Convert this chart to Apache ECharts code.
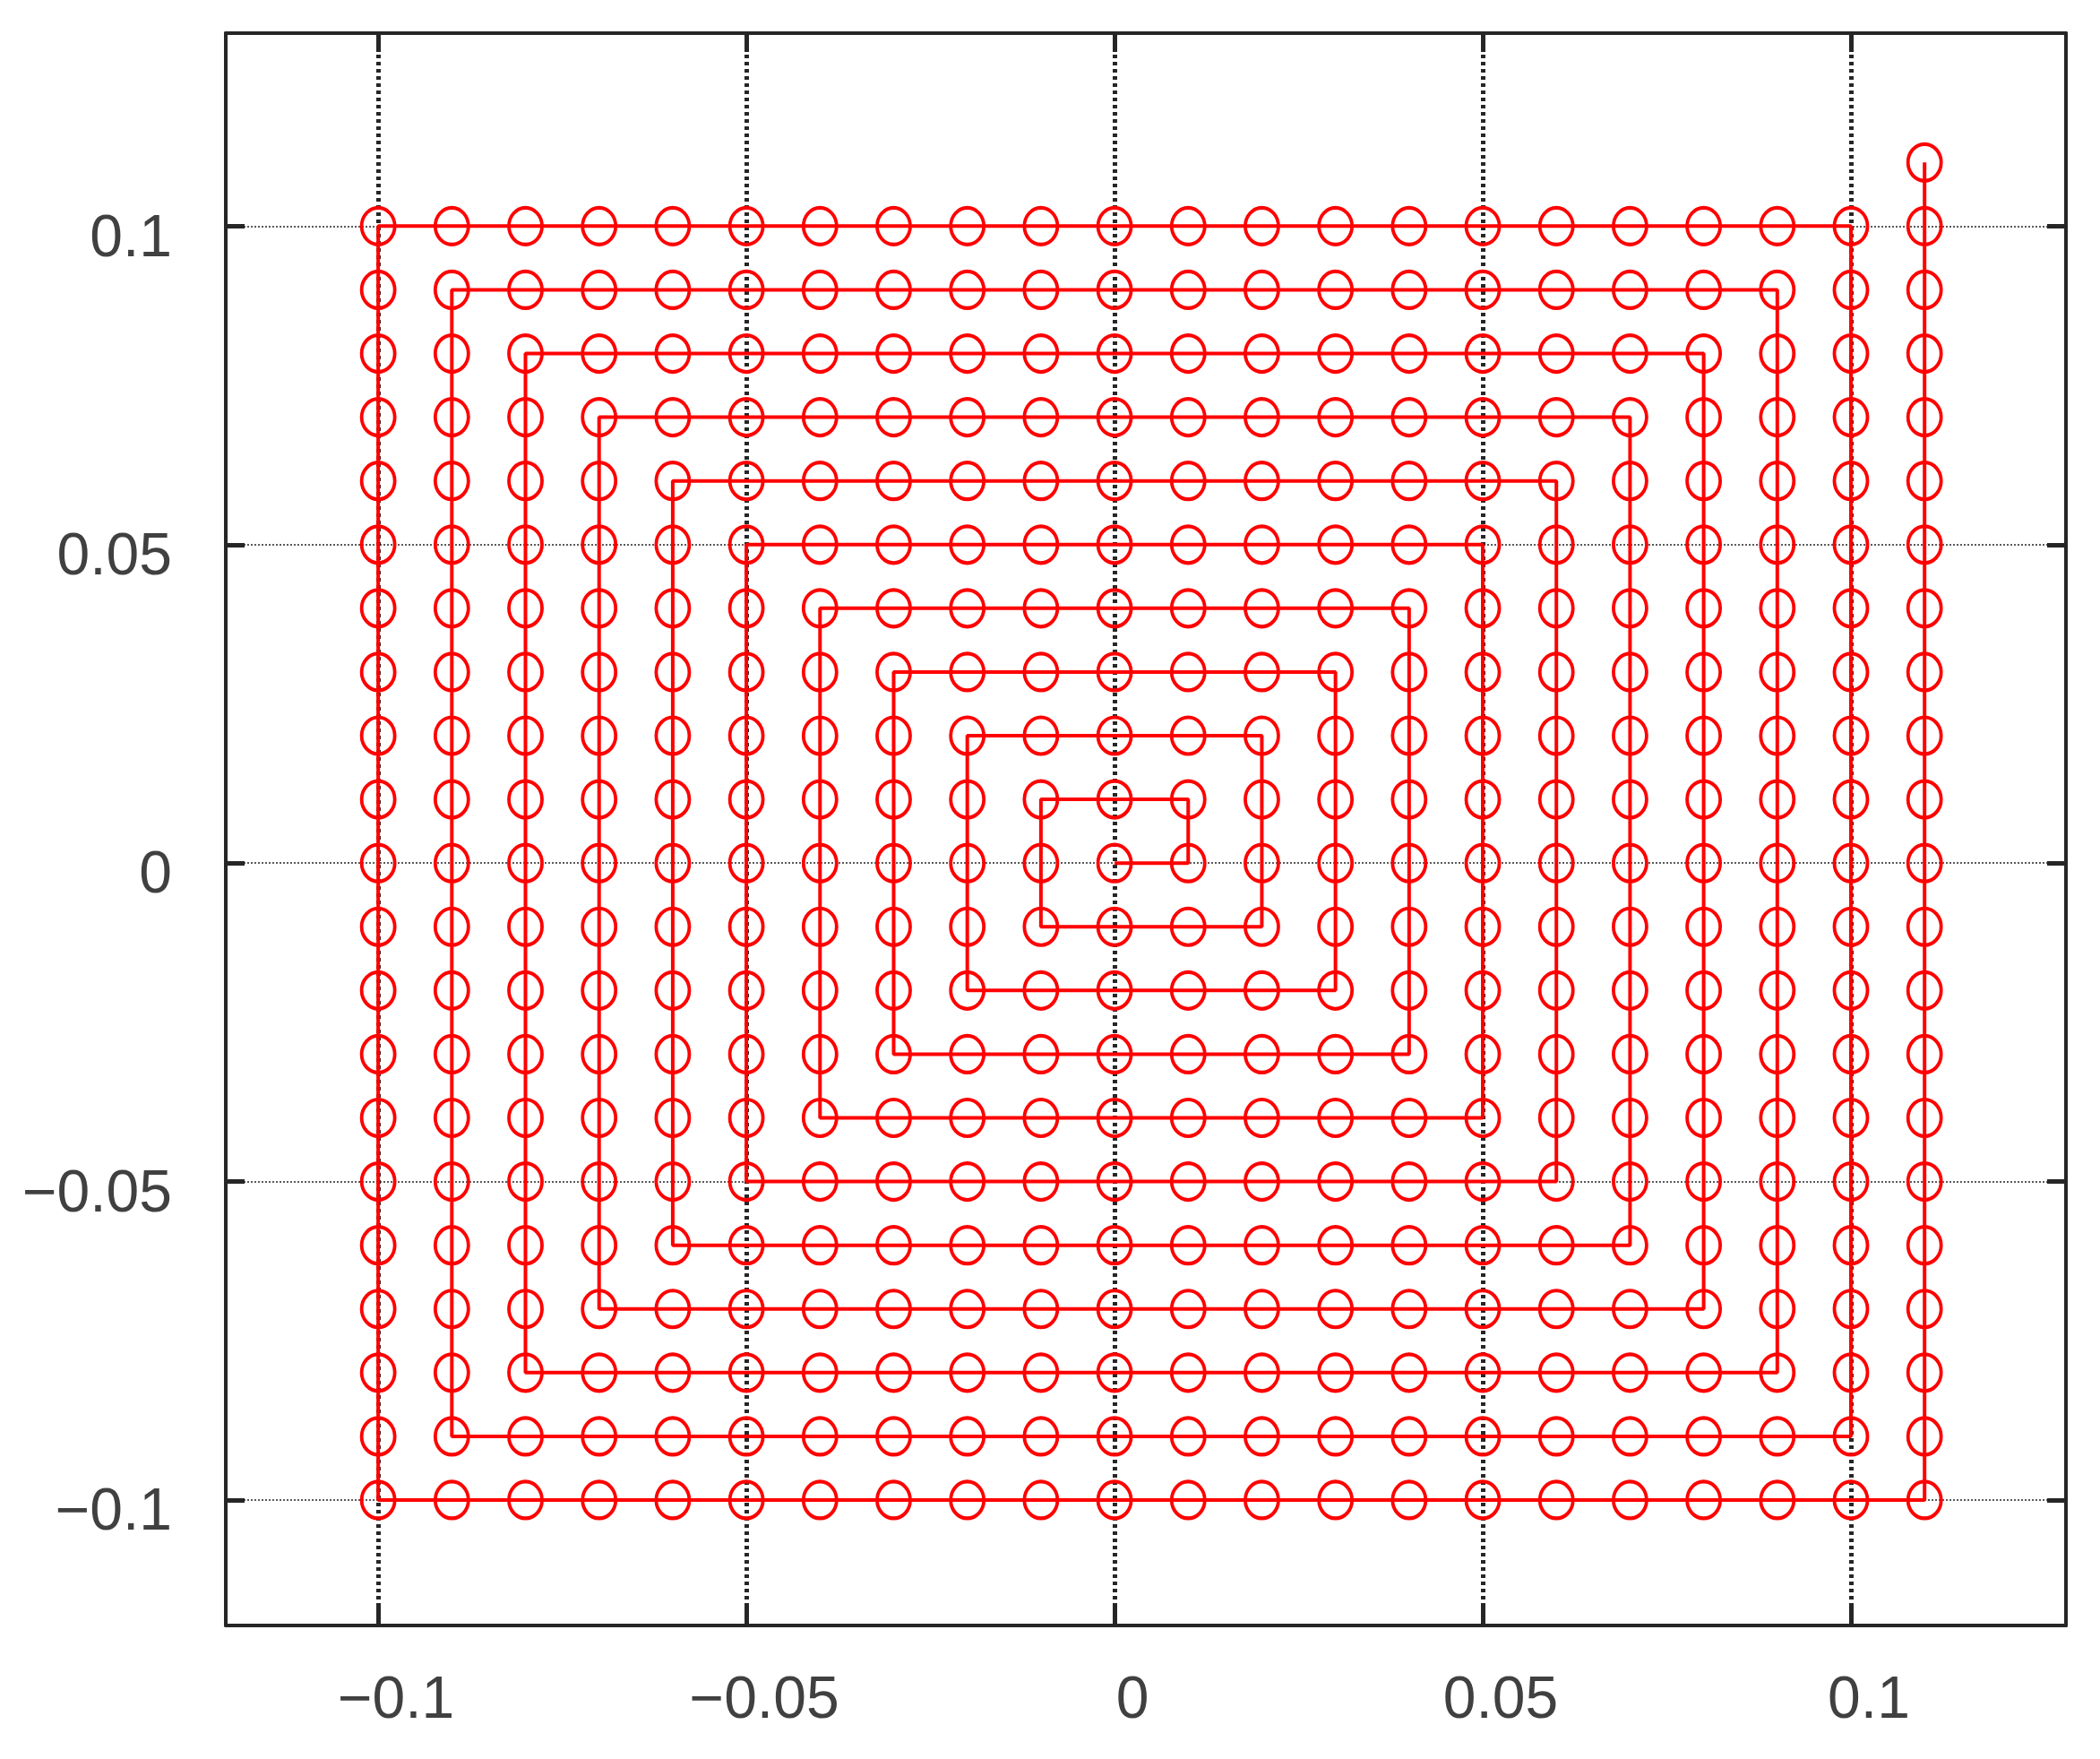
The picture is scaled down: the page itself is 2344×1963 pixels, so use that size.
<!DOCTYPE html>
<html>
<head>
<meta charset="utf-8">
<script src="https://cdn.jsdelivr.net/npm/echarts@6/dist/echarts.min.js"></script>
<style>
html,body{margin:0;padding:0;background:#fff;}
#chart{width:2344px;height:1963px;}
</style>
</head>
<body>
<div id="chart"></div>
<script>
// Tick values (both axes)
const xTicks = [-0.1, -0.05, 0, 0.05, 0.1];
const yTicks = [-0.1, -0.05, 0, 0.05, 0.1];
// Axis extents read from the frame
const xRange = [-0.1207, 0.1292];
const yRange = [-0.1197, 0.1303];

// Square spiral path, points in drawing order [x, y]
const spiral = [
  [0,0],
  // ring 1
  [0.01,0],
  [0.01,0.01],
  [0,0.01],[-0.01,0.01],
  [-0.01,0],[-0.01,-0.01],
  // ring 2
  [0,-0.01],[0.01,-0.01],[0.02,-0.01],
  [0.02,0],[0.02,0.01],[0.02,0.02],
  [0.01,0.02],[0,0.02],[-0.01,0.02],[-0.02,0.02],
  [-0.02,0.01],[-0.02,0],[-0.02,-0.01],[-0.02,-0.02],
  // ring 3
  [-0.01,-0.02],[0,-0.02],[0.01,-0.02],[0.02,-0.02],[0.03,-0.02],
  [0.03,-0.01],[0.03,0],[0.03,0.01],[0.03,0.02],[0.03,0.03],
  [0.02,0.03],[0.01,0.03],[0,0.03],[-0.01,0.03],[-0.02,0.03],[-0.03,0.03],
  [-0.03,0.02],[-0.03,0.01],[-0.03,0],[-0.03,-0.01],[-0.03,-0.02],[-0.03,-0.03],
  // ring 4
  [-0.02,-0.03],[-0.01,-0.03],[0,-0.03],[0.01,-0.03],[0.02,-0.03],[0.03,-0.03],[0.04,-0.03],
  [0.04,-0.02],[0.04,-0.01],[0.04,0],[0.04,0.01],[0.04,0.02],[0.04,0.03],[0.04,0.04],
  [0.03,0.04],[0.02,0.04],[0.01,0.04],[0,0.04],[-0.01,0.04],[-0.02,0.04],[-0.03,0.04],[-0.04,0.04],
  [-0.04,0.03],[-0.04,0.02],[-0.04,0.01],[-0.04,0],[-0.04,-0.01],[-0.04,-0.02],[-0.04,-0.03],[-0.04,-0.04],
  // ring 5
  [-0.03,-0.04],[-0.02,-0.04],[-0.01,-0.04],[0,-0.04],[0.01,-0.04],[0.02,-0.04],[0.03,-0.04],[0.04,-0.04],[0.05,-0.04],
  [0.05,-0.03],[0.05,-0.02],[0.05,-0.01],[0.05,0],[0.05,0.01],[0.05,0.02],[0.05,0.03],[0.05,0.04],[0.05,0.05],
  [0.04,0.05],[0.03,0.05],[0.02,0.05],[0.01,0.05],[0,0.05],[-0.01,0.05],[-0.02,0.05],[-0.03,0.05],[-0.04,0.05],[-0.05,0.05],
  [-0.05,0.04],[-0.05,0.03],[-0.05,0.02],[-0.05,0.01],[-0.05,0],[-0.05,-0.01],[-0.05,-0.02],[-0.05,-0.03],[-0.05,-0.04],[-0.05,-0.05],
  // ring 6
  [-0.04,-0.05],[-0.03,-0.05],[-0.02,-0.05],[-0.01,-0.05],[0,-0.05],[0.01,-0.05],[0.02,-0.05],[0.03,-0.05],[0.04,-0.05],[0.05,-0.05],[0.06,-0.05],
  [0.06,-0.04],[0.06,-0.03],[0.06,-0.02],[0.06,-0.01],[0.06,0],[0.06,0.01],[0.06,0.02],[0.06,0.03],[0.06,0.04],[0.06,0.05],[0.06,0.06],
  [0.05,0.06],[0.04,0.06],[0.03,0.06],[0.02,0.06],[0.01,0.06],[0,0.06],[-0.01,0.06],[-0.02,0.06],[-0.03,0.06],[-0.04,0.06],[-0.05,0.06],[-0.06,0.06],
  [-0.06,0.05],[-0.06,0.04],[-0.06,0.03],[-0.06,0.02],[-0.06,0.01],[-0.06,0],[-0.06,-0.01],[-0.06,-0.02],[-0.06,-0.03],[-0.06,-0.04],[-0.06,-0.05],[-0.06,-0.06],
  // ring 7
  [-0.05,-0.06],[-0.04,-0.06],[-0.03,-0.06],[-0.02,-0.06],[-0.01,-0.06],[0,-0.06],[0.01,-0.06],[0.02,-0.06],[0.03,-0.06],[0.04,-0.06],[0.05,-0.06],[0.06,-0.06],[0.07,-0.06],
  [0.07,-0.05],[0.07,-0.04],[0.07,-0.03],[0.07,-0.02],[0.07,-0.01],[0.07,0],[0.07,0.01],[0.07,0.02],[0.07,0.03],[0.07,0.04],[0.07,0.05],[0.07,0.06],[0.07,0.07],
  [0.06,0.07],[0.05,0.07],[0.04,0.07],[0.03,0.07],[0.02,0.07],[0.01,0.07],[0,0.07],[-0.01,0.07],[-0.02,0.07],[-0.03,0.07],[-0.04,0.07],[-0.05,0.07],[-0.06,0.07],[-0.07,0.07],
  [-0.07,0.06],[-0.07,0.05],[-0.07,0.04],[-0.07,0.03],[-0.07,0.02],[-0.07,0.01],[-0.07,0],[-0.07,-0.01],[-0.07,-0.02],[-0.07,-0.03],[-0.07,-0.04],[-0.07,-0.05],[-0.07,-0.06],[-0.07,-0.07],
  // ring 8
  [-0.06,-0.07],[-0.05,-0.07],[-0.04,-0.07],[-0.03,-0.07],[-0.02,-0.07],[-0.01,-0.07],[0,-0.07],[0.01,-0.07],[0.02,-0.07],[0.03,-0.07],[0.04,-0.07],[0.05,-0.07],[0.06,-0.07],[0.07,-0.07],[0.08,-0.07],
  [0.08,-0.06],[0.08,-0.05],[0.08,-0.04],[0.08,-0.03],[0.08,-0.02],[0.08,-0.01],[0.08,0],[0.08,0.01],[0.08,0.02],[0.08,0.03],[0.08,0.04],[0.08,0.05],[0.08,0.06],[0.08,0.07],[0.08,0.08],
  [0.07,0.08],[0.06,0.08],[0.05,0.08],[0.04,0.08],[0.03,0.08],[0.02,0.08],[0.01,0.08],[0,0.08],[-0.01,0.08],[-0.02,0.08],[-0.03,0.08],[-0.04,0.08],[-0.05,0.08],[-0.06,0.08],[-0.07,0.08],[-0.08,0.08],
  [-0.08,0.07],[-0.08,0.06],[-0.08,0.05],[-0.08,0.04],[-0.08,0.03],[-0.08,0.02],[-0.08,0.01],[-0.08,0],[-0.08,-0.01],[-0.08,-0.02],[-0.08,-0.03],[-0.08,-0.04],[-0.08,-0.05],[-0.08,-0.06],[-0.08,-0.07],[-0.08,-0.08],
  // ring 9
  [-0.07,-0.08],[-0.06,-0.08],[-0.05,-0.08],[-0.04,-0.08],[-0.03,-0.08],[-0.02,-0.08],[-0.01,-0.08],[0,-0.08],[0.01,-0.08],[0.02,-0.08],[0.03,-0.08],[0.04,-0.08],[0.05,-0.08],[0.06,-0.08],[0.07,-0.08],[0.08,-0.08],[0.09,-0.08],
  [0.09,-0.07],[0.09,-0.06],[0.09,-0.05],[0.09,-0.04],[0.09,-0.03],[0.09,-0.02],[0.09,-0.01],[0.09,0],[0.09,0.01],[0.09,0.02],[0.09,0.03],[0.09,0.04],[0.09,0.05],[0.09,0.06],[0.09,0.07],[0.09,0.08],[0.09,0.09],
  [0.08,0.09],[0.07,0.09],[0.06,0.09],[0.05,0.09],[0.04,0.09],[0.03,0.09],[0.02,0.09],[0.01,0.09],[0,0.09],[-0.01,0.09],[-0.02,0.09],[-0.03,0.09],[-0.04,0.09],[-0.05,0.09],[-0.06,0.09],[-0.07,0.09],[-0.08,0.09],[-0.09,0.09],
  [-0.09,0.08],[-0.09,0.07],[-0.09,0.06],[-0.09,0.05],[-0.09,0.04],[-0.09,0.03],[-0.09,0.02],[-0.09,0.01],[-0.09,0],[-0.09,-0.01],[-0.09,-0.02],[-0.09,-0.03],[-0.09,-0.04],[-0.09,-0.05],[-0.09,-0.06],[-0.09,-0.07],[-0.09,-0.08],[-0.09,-0.09],
  // ring 10
  [-0.08,-0.09],[-0.07,-0.09],[-0.06,-0.09],[-0.05,-0.09],[-0.04,-0.09],[-0.03,-0.09],[-0.02,-0.09],[-0.01,-0.09],[0,-0.09],[0.01,-0.09],[0.02,-0.09],[0.03,-0.09],[0.04,-0.09],[0.05,-0.09],[0.06,-0.09],[0.07,-0.09],[0.08,-0.09],[0.09,-0.09],[0.1,-0.09],
  [0.1,-0.08],[0.1,-0.07],[0.1,-0.06],[0.1,-0.05],[0.1,-0.04],[0.1,-0.03],[0.1,-0.02],[0.1,-0.01],[0.1,0],[0.1,0.01],[0.1,0.02],[0.1,0.03],[0.1,0.04],[0.1,0.05],[0.1,0.06],[0.1,0.07],[0.1,0.08],[0.1,0.09],[0.1,0.1],
  [0.09,0.1],[0.08,0.1],[0.07,0.1],[0.06,0.1],[0.05,0.1],[0.04,0.1],[0.03,0.1],[0.02,0.1],[0.01,0.1],[0,0.1],[-0.01,0.1],[-0.02,0.1],[-0.03,0.1],[-0.04,0.1],[-0.05,0.1],[-0.06,0.1],[-0.07,0.1],[-0.08,0.1],[-0.09,0.1],[-0.1,0.1],
  [-0.1,0.09],[-0.1,0.08],[-0.1,0.07],[-0.1,0.06],[-0.1,0.05],[-0.1,0.04],[-0.1,0.03],[-0.1,0.02],[-0.1,0.01],[-0.1,0],[-0.1,-0.01],[-0.1,-0.02],[-0.1,-0.03],[-0.1,-0.04],[-0.1,-0.05],[-0.1,-0.06],[-0.1,-0.07],[-0.1,-0.08],[-0.1,-0.09],[-0.1,-0.1],
  // final partial ring
  [-0.09,-0.1],[-0.08,-0.1],[-0.07,-0.1],[-0.06,-0.1],[-0.05,-0.1],[-0.04,-0.1],[-0.03,-0.1],[-0.02,-0.1],[-0.01,-0.1],[0,-0.1],[0.01,-0.1],[0.02,-0.1],[0.03,-0.1],[0.04,-0.1],[0.05,-0.1],[0.06,-0.1],[0.07,-0.1],[0.08,-0.1],[0.09,-0.1],[0.1,-0.1],[0.11,-0.1],
  [0.11,-0.09],[0.11,-0.08],[0.11,-0.07],[0.11,-0.06],[0.11,-0.05],[0.11,-0.04],[0.11,-0.03],[0.11,-0.02],[0.11,-0.01],[0.11,0],[0.11,0.01],[0.11,0.02],[0.11,0.03],[0.11,0.04],[0.11,0.05],[0.11,0.06],[0.11,0.07],[0.11,0.08],[0.11,0.09],[0.11,0.1],[0.11,0.11]
];

const FONT = '"Liberation Sans", Arial, Helvetica, sans-serif';
const INK = '#262626';
const fmt = v => (v < 0 ? '\u2212' + String(-v) : String(v));

const chart = echarts.init(document.getElementById('chart'), null, {renderer: 'canvas'});
const tickCommon = {show: true, inside: true, length: 21, lineStyle: {color: INK, width: 5}};
const lineCommon = {show: true, onZero: false, lineStyle: {color: INK, width: 4}};

chart.setOption({
  backgroundColor: '#ffffff',
  animation: false,
  grid: {left: 252, top: 37, width: 2054, height: 1777, containLabel: false},
  xAxis: [
    {
      type: 'value', position: 'bottom', min: xRange[0], max: xRange[1],
      axisLine: lineCommon,
      axisTick: Object.assign({customValues: xTicks}, tickCommon),
      axisLabel: {customValues: xTicks, formatter: fmt, fontFamily: FONT, fontSize: 66, color: '#404040',
                  margin: 52, padding: [0, 0, 0, 40]},
      splitLine: {show: true, lineStyle: {color: INK, width: 5, type: [4, 4]}}
    },
    {
      type: 'value', position: 'top', min: xRange[0], max: xRange[1],
      axisLine: lineCommon,
      axisTick: Object.assign({customValues: xTicks}, tickCommon),
      axisLabel: {show: false},
      splitLine: {show: false}
    }
  ],
  yAxis: [
    {
      type: 'value', position: 'left', min: yRange[0], max: yRange[1],
      axisLine: lineCommon,
      axisTick: Object.assign({customValues: yTicks}, tickCommon),
      axisLabel: {customValues: yTicks, formatter: fmt, fontFamily: FONT, fontSize: 66, color: '#404040',
                  margin: 60, verticalAlign: 'top', lineHeight: 30},
      splitLine: {show: true, lineStyle: {color: INK, width: 1.5, type: [2, 2]}}
    },
    {
      type: 'value', position: 'right', min: yRange[0], max: yRange[1],
      axisLine: lineCommon,
      axisTick: Object.assign({customValues: yTicks}, tickCommon),
      axisLabel: {show: false},
      splitLine: {show: false}
    }
  ],
  series: [{
    type: 'line',
    xAxisIndex: 0, yAxisIndex: 0,
    data: spiral,
    symbol: 'path://M0,1 A1,1 0 1,1 2,1 A1,1 0 1,1 0,1 Z',
    symbolSize: [37, 41],
    symbolKeepAspect: false,
    showSymbol: true,
    lineStyle: {color: '#ff0000', width: 4},
    itemStyle: {color: 'rgba(0,0,0,0)', borderColor: '#ff0000', borderWidth: 4},
    emphasis: {disabled: true},
    clip: false
  }]
});
</script>
</body>
</html>
